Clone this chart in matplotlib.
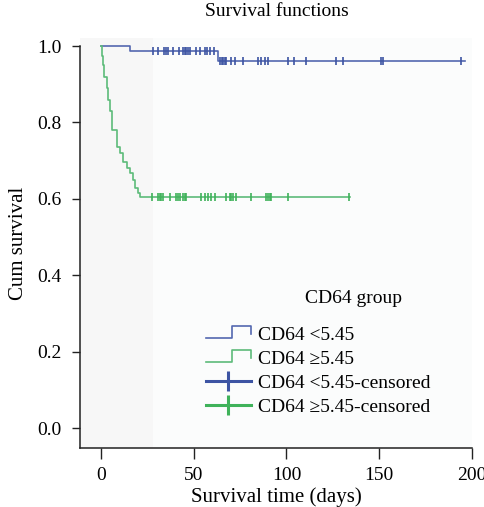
import numpy as np
import matplotlib
matplotlib.use("Agg")
import matplotlib.pyplot as plt
from matplotlib.lines import Line2D
from matplotlib.legend_handler import HandlerBase

plt.rcParams['font.family'] = ['Liberation Serif', 'DejaVu Serif']

# step curves (event time, survival after event)
blue_t = [15.6, 63.0]
blue_s = [0.988, 0.961]
green_t = [0.7, 1.2, 1.8, 3.0, 4.0, 4.8, 5.7, 8.4, 10.2, 12.0, 13.8, 15.6, 17.4, 18.3, 20.0, 21.0]
green_s = [0.975, 0.95, 0.92, 0.89, 0.86, 0.83, 0.78, 0.736, 0.72, 0.696, 0.68, 0.667, 0.649, 0.628, 0.615, 0.606]
blue_end = 196.0
green_end = 134.0

# censored times
blue_cens = [27.8, 30.8, 33.9, 34.9, 36.2, 38.9, 42.1, 44.3, 45.2, 46.1, 47.0, 47.8,
             51.4, 53.2, 55.9, 57.2, 58.6, 60.8,
             64.2, 65.0, 65.8, 66.6, 67.4, 70.3, 72.0, 76.5, 84.6, 86.4, 88.2, 89.9,
             100.7, 104.3, 110.6, 126.7, 130.3, 150.9, 151.8, 193.9]
green_cens = [27.3, 30.8, 31.7, 32.6, 33.5, 37.1, 40.7, 41.5, 42.5, 44.2, 45.2, 46.1,
              54.1, 55.9, 57.7, 59.5, 61.3, 67.6, 69.4, 70.3, 71.1, 73.0, 81.0,
              89.1, 90.0, 90.9, 91.8, 100.7, 133.9]

labels = ["CD64 <5.45", "CD64 \u22655.45", "CD64 <5.45-censored", "CD64 \u22655.45-censored"]

blue_line = '#5468b0'
blue_mark = '#3d54a3'
green_line = '#5dbb7a'
green_mark = '#3fb25a'
serif = ['Liberation Serif', 'DejaVu Serif']


def step_xy(times, surv, end):
    xs = [0.0]
    ys = [1.0]
    for t, s in zip(times, surv):
        xs += [t, t]
        ys += [ys[-1], s]
    xs.append(end)
    ys.append(ys[-1])
    return xs, ys


def surv_at(times, surv, x):
    val = 1.0
    for t, s in zip(times, surv):
        if x >= t:
            val = s
    return val


class HandlerStep(HandlerBase):
    def create_artists(self, legend, orig, xd, yd, w, h, fs, trans):
        x0 = -xd
        y0 = -yd + 0.1 * h
        hh = 0.9 * h
        xs = [x0, x0 + 0.58 * w, x0 + 0.58 * w, x0 + w, x0 + w]
        ys = [y0, y0, y0 + hh, y0 + hh, y0 + 0.35 * hh]
        ln = Line2D(xs, ys, color=orig.get_color(), lw=1.2, transform=trans)
        return [ln]


fig = plt.figure(figsize=(4.85, 5.07), dpi=100)
ax = fig.add_axes([80 / 485, 59 / 507, 392 / 485, 409.6 / 507])
ax.set_facecolor('#fbfcfc')
ax.axvspan(-11.3, 28, color='#f7f7f7', lw=0, zorder=0)

bx, by = step_xy(blue_t, blue_s, blue_end)
gx, gy = step_xy(green_t, green_s, green_end)
ax.plot(bx, by, color=blue_line, lw=1.2)
ax.plot(gx, gy, color=green_line, lw=1.2)

ax.plot(blue_cens, [surv_at(blue_t, blue_s, c) for c in blue_cens], ls='none',
        marker='|', ms=6, mew=1.2, color=blue_mark)
ax.plot(green_cens, [surv_at(green_t, green_s, c) for c in green_cens], ls='none',
        marker='|', ms=6, mew=1.2, color=green_mark)

ax.set_xlim(-11.3, 200)
ax.set_ylim(-0.052, 1.02)
ax.set_xticks([0, 50, 100, 150, 200])
ax.set_yticks([0.0, 0.2, 0.4, 0.6, 0.8, 1.0])
ax.set_yticklabels(['0.0', '0.2', '0.4', '0.6', '0.8', '1.0'])
ax.tick_params(axis='both', labelsize=14, direction='out', width=1, color='#222222')
ax.tick_params(axis='x', length=8, pad=6)
ax.tick_params(axis='y', length=6, pad=7)
for sp in ['top', 'right']:
    ax.spines[sp].set_visible(False)
ax.spines['left'].set_bounds(-0.052, 1.0)
ax.spines['bottom'].set_bounds(-11.3, 200)
for sp in ['left', 'bottom']:
    ax.spines[sp].set_linewidth(1.1)
    ax.spines[sp].set_color('#222222')

ax.set_xlabel('Survival time (days)', fontsize=15, labelpad=2)
ax.set_ylabel('Cum survival', fontsize=15, labelpad=7)
fig.text(277 / 485, 1 - 11 / 507, 'Survival functions', ha='center', va='center', fontsize=14)

ax.text(0.574, 0.364, 'CD64 group', transform=ax.transAxes, ha='left', va='center',
        fontsize=14, family=serif)

h1 = Line2D([], [], color=blue_line)
h2 = Line2D([], [], color=green_line)
h3 = Line2D([], [], color=blue_mark, lw=2.2, marker='|', ms=14, mew=2.2)
h4 = Line2D([], [], color=green_mark, lw=2.2, marker='|', ms=14, mew=2.2)
ax.legend([h1, h2, h3, h4], labels, prop={'family': serif, 'size': 14},
          frameon=False, loc='upper left', bbox_to_anchor=(0.321, 0.298), borderpad=0,
          handlelength=2.3, handletextpad=0.4, labelspacing=0.34, borderaxespad=0,
          handler_map={h1: HandlerStep(), h2: HandlerStep()})

fig.savefig('out.png', dpi=100)
